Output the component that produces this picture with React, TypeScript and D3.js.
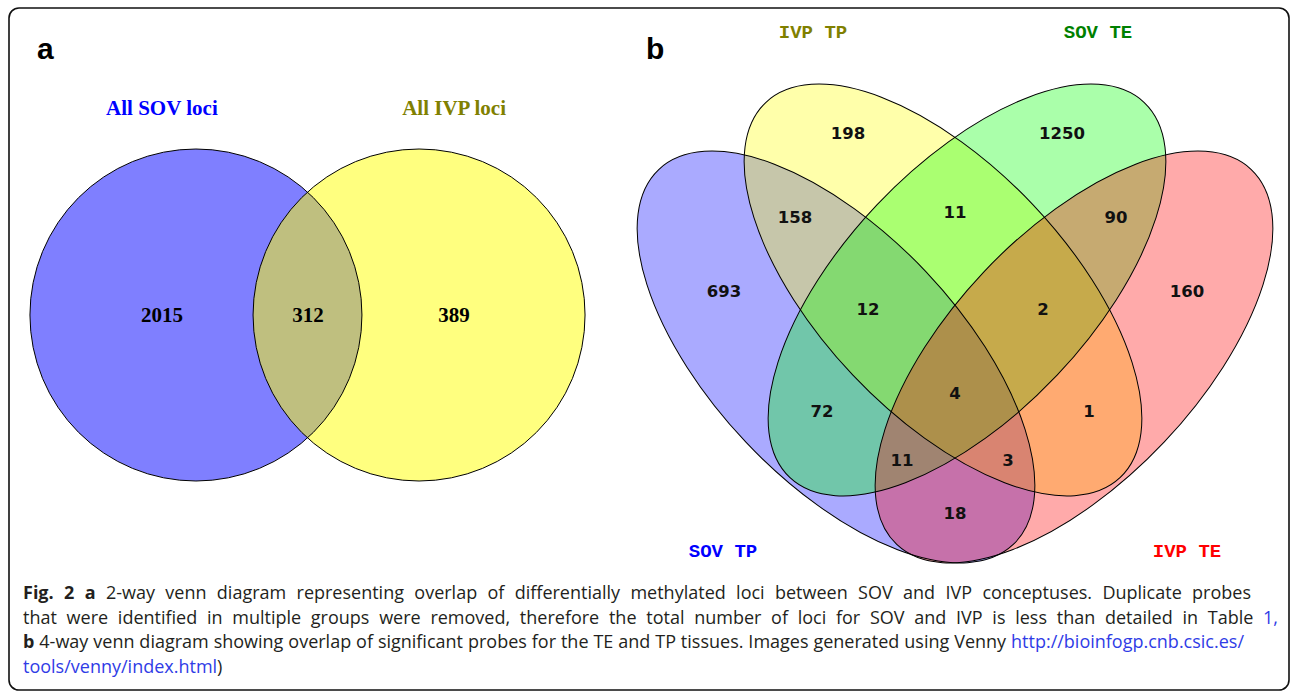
import React, { useLayoutEffect, useRef, useState } from "react";
import * as d3 from "d3";

const W = 1295;
const H = 691;

// ---------- Panel a : 2-way venn ----------
const sets2 = ["All SOV loci", "All IVP loci"];
const setFill2 = ["#0000ff", "#ffff00"];
const setLabelColor2 = ["#0000ff", "#808000"];
const regionKeys2 = ["10", "11", "01"];
const regionValues2 = [2015, 312, 389];

// ---------- Panel b : 4-way venn ----------
const sets4 = ["SOV TP", "IVP TP", "SOV TE", "IVP TE"];
const setFill4 = ["#0000ff", "#ffff00", "#00ff00", "#ff0000"];
const setLabelColor4 = ["#0000ff", "#808000", "#008000", "#ff0000"];
const regionKeys4 = [
  "1000", "0100", "0010", "0001",
  "1100", "0110", "0011",
  "1110", "0111", "1111",
  "1010", "0101",
  "1011", "1101", "1001",
];
const regionValues4 = [693, 198, 1250, 160, 158, 11, 90, 12, 2, 4, 72, 1, 11, 3, 18];

// ---------- Template geometry (unit space, mapped by d3 scales) ----------
const tpl2Circles = [
  { u: -0.675, v: 0, r: 1 },
  { u: 0.669, v: 0, r: 1 },
];
const tpl2RegionAnchors = [
  { u: -0.88, v: 0 },
  { u: 0, v: 0 },
  { u: 0.88, v: 0 },
];
const tpl2SetAnchors = [
  { u: -0.88, v: -1.247 },
  { u: 0.88, v: -1.247 },
];

const tpl4Ellipses = [
  { u: -0.595, v: 0, a: 1.29, b: 0.62, rot: 46.6 },
  { u: -0.06, v: -0.335, a: 1.29, b: 0.62, rot: 46.6 },
  { u: 0.06, v: -0.335, a: 1.29, b: 0.62, rot: -46.6 },
  { u: 0.595, v: 0, a: 1.29, b: 0.62, rot: -46.6 },
];
const tpl4RegionAnchors = [
  { u: -1.155, v: -0.33 },
  { u: -0.535, v: -1.12 },
  { u: 0.535, v: -1.12 },
  { u: 1.16, v: -0.33 },
  { u: -0.8, v: -0.7 },
  { u: 0, v: -0.725 },
  { u: 0.805, v: -0.7 },
  { u: -0.435, v: -0.24 },
  { u: 0.44, v: -0.24 },
  { u: 0, v: 0.18 },
  { u: -0.665, v: 0.27 },
  { u: 0.67, v: 0.27 },
  { u: -0.265, v: 0.515 },
  { u: 0.265, v: 0.515 },
  { u: 0, v: 0.78 },
];
const tpl4SetAnchors = [
  { u: -1.16, v: 0.965 },
  { u: -0.71, v: -1.63 },
  { u: 0.715, v: -1.63 },
  { u: 1.16, v: 0.965 },
];

// ---------- Caption ----------
type Seg = { t: string; b?: boolean; link?: boolean };
const captionLines: Seg[][] = [
  [
    { t: "Fig. 2 a", b: true },
    { t: " 2-way venn diagram representing overlap of differentially methylated loci between SOV and IVP conceptuses. Duplicate probes" },
  ],
  [
    { t: "that were identified in multiple groups were removed, therefore the total number of loci for SOV and IVP is less than detailed in Table " },
    { t: "1,", link: true },
  ],
  [
    { t: "b", b: true },
    { t: " 4-way venn diagram showing overlap of significant probes for the TE and TP tissues. Images generated using Venny " },
    { t: "http://bioinfogp.cnb.csic.es/", link: true },
  ],
  [{ t: "tools/venny/index.html", link: true }, { t: ")" }],
];
const captionWidths: (number | null)[] = [1228, 1255, 1221, null];

const CAPTION_X = 23;
const CAPTION_Y0 = 599;
const CAPTION_DY = 24.5;

function Caption() {
  const refs = useRef<(SVGTextElement | null)[]>([]);
  const [ws, setWs] = useState<number[] | null>(null);
  useLayoutEffect(() => {
    const out = captionLines.map((line, i) => {
      const el = refs.current[i];
      const target = captionWidths[i];
      if (!el || target == null) return 0;
      const w = el.getComputedTextLength();
      const spaces = line.map((s) => s.t).join("").split(" ").length - 1;
      return spaces ? (target - w) / spaces : 0;
    });
    setWs(out);
  }, []);
  return (
    <g fontFamily="'Open Sans', 'Noto Sans', sans-serif" fontSize={18} fill="#231f20">
      {captionLines.map((line, i) => (
        <text
          key={i}
          ref={(el) => {
            refs.current[i] = el;
          }}
          x={CAPTION_X}
          y={CAPTION_Y0 + i * CAPTION_DY}
          style={{ wordSpacing: ws ? `${ws[i]}px` : "0px", whiteSpace: "pre" }}
        >
          {line.map((s, j) => (
            <tspan key={j} fontWeight={s.b ? 700 : 400} fill={s.link ? "#2f3ce6" : "#231f20"}>
              {s.t}
            </tspan>
          ))}
        </text>
      ))}
    </g>
  );
}

export default function App() {
  const x2 = d3.scaleLinear().domain([0, 1]).range([308, 308 + 166]);
  const y2 = d3.scaleLinear().domain([0, 1]).range([315, 315 + 166]);
  const s2 = 166;
  const x4 = d3.scaleLinear().domain([0, 1]).range([955, 1155]);
  const y4 = d3.scaleLinear().domain([0, 1]).range([357, 557]);
  const s4 = 200;

  return (
    <svg
      width={W}
      height={H}
      viewBox={`0 0 ${W} ${H}`}
      style={{ position: "absolute", left: 0, top: 0, display: "block", background: "#fff" }}
    >
      <rect x={0} y={0} width={W} height={H} fill="#fff" />
      <rect x={9} y={8} width={1280} height={682} rx={10} ry={10} fill="none" stroke="#111" strokeWidth={1.6} />

      <text x={37} y={59} fontFamily="'Liberation Sans', Arial, sans-serif" fontWeight={700} fontSize={30} fill="#000">a</text>
      <text x={646} y={59} fontFamily="'Liberation Sans', Arial, sans-serif" fontWeight={700} fontSize={30} fill="#000">b</text>

      <g>
        {tpl2Circles.map((c, i) => (
          <circle key={"f" + i} cx={x2(c.u)} cy={y2(c.v)} r={c.r * s2} fill={setFill2[i]} fillOpacity={0.5} stroke="none" />
        ))}
        {tpl2Circles.map((c, i) => (
          <circle key={"s" + i} cx={x2(c.u)} cy={y2(c.v)} r={c.r * s2} fill="none" stroke="#000" strokeWidth={1} />
        ))}
        {sets2.map((s, i) => (
          <text
            key={s}
            x={x2(tpl2SetAnchors[i].u)}
            y={y2(tpl2SetAnchors[i].v)}
            dy="0.35em"
            textAnchor="middle"
            fontFamily="'Liberation Serif', 'Times New Roman', serif"
            fontWeight={700}
            fontSize={21}
            fill={setLabelColor2[i]}
          >
            {s}
          </text>
        ))}
        {regionKeys2.map((k, i) => (
          <text
            key={k}
            x={x2(tpl2RegionAnchors[i].u)}
            y={y2(tpl2RegionAnchors[i].v)}
            dy="0.35em"
            textAnchor="middle"
            fontFamily="'Liberation Serif', 'Times New Roman', serif"
            fontWeight={700}
            fontSize={21}
            fill="#000"
          >
            {regionValues2[i]}
          </text>
        ))}
      </g>

      <g>
        {tpl4Ellipses.map((e, i) => {
          const cx = x4(e.u);
          const cy = y4(e.v);
          return (
            <ellipse
              key={"f" + i}
              cx={cx}
              cy={cy}
              rx={e.a * s4}
              ry={e.b * s4}
              transform={`rotate(${e.rot} ${cx} ${cy})`}
              fill={setFill4[i]}
              fillOpacity={1 / 3}
              stroke="none"
            />
          );
        })}
        {tpl4Ellipses.map((e, i) => {
          const cx = x4(e.u);
          const cy = y4(e.v);
          return (
            <ellipse
              key={"s" + i}
              cx={cx}
              cy={cy}
              rx={e.a * s4}
              ry={e.b * s4}
              transform={`rotate(${e.rot} ${cx} ${cy})`}
              fill="none"
              stroke="#000"
              strokeWidth={1}
            />
          );
        })}
        {regionKeys4.map((k, i) => (
          <text
            key={k}
            x={x4(tpl4RegionAnchors[i].u)}
            y={y4(tpl4RegionAnchors[i].v)}
            dy="0.36em"
            textAnchor="middle"
            fontFamily="'DejaVu Sans', sans-serif"
            fontWeight={700}
            fontSize={16.5}
            fill="#111"
          >
            {regionValues4[i]}
          </text>
        ))}
        {sets4.map((s, i) => (
          <text
            key={s}
            x={x4(tpl4SetAnchors[i].u)}
            y={y4(tpl4SetAnchors[i].v)}
            dy="0.35em"
            textAnchor="middle"
            fontFamily="'Liberation Mono', 'Courier New', monospace"
            fontWeight={700}
            fontSize={19}
            fill={setLabelColor4[i]}
            style={{ whiteSpace: "pre" }}
          >
            {s}
          </text>
        ))}
      </g>

      <Caption />
    </svg>
  );
}
